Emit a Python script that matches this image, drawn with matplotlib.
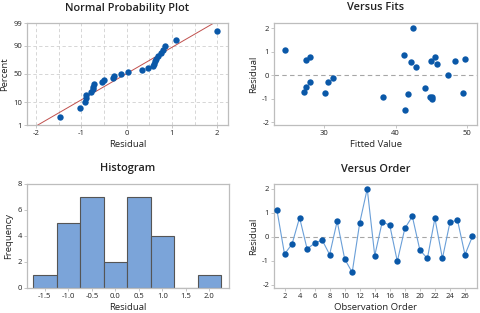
"""
Four-in-one residual plots (Minitab style).
"""

from statistics import NormalDist

import matplotlib
matplotlib.use("Agg")
import matplotlib.pyplot as plt
import numpy as np

# residuals by observation order
residuals = [1.10, -0.72, -0.30, 0.80, -0.50, -0.27, -0.13, -0.74, 0.65,
             -0.92, -1.48, 0.58, 2.00, -0.78, 0.63, 0.48, -1.02, 0.35,
             0.85, -0.55, -0.90, 0.77, -0.90, 0.60, 0.70, -0.74, 0.02]

# fitted values for the same observations
fitted = [24.5, 27.2, 28.0, 28.0, 27.5, 30.5, 31.2, 30.2, 27.5,
          38.3, 41.3, 42.2, 42.5, 41.8, 45.0, 45.8, 45.1, 42.9,
          41.2, 44.1, 44.8, 45.5, 45.1, 48.3, 49.7, 49.4, 47.4]

order = list(range(1, len(residuals) + 1))

prob_ticks = [1, 10, 50, 90, 99]
hist_bins = [-1.75, -1.25, -0.75, -0.25, 0.25, 0.75, 1.25, 1.75, 2.25]
hist_ticks = [-1.5, -1.0, -0.5, 0.0, 0.5, 1.0, 1.5, 2.0]

BLUE = "#0a58a8"
GRID = "#d0d0d0"
SPINE = "#bdbdbd"
TEXT = "#222222"

plt.rcParams["font.family"] = ["Open Sans", "DejaVu Sans"]
plt.rcParams["axes.unicode_minus"] = False
plt.rcParams["xtick.labelsize"] = 5.5
plt.rcParams["ytick.labelsize"] = 5.5
plt.rcParams["xtick.major.size"] = 2
plt.rcParams["ytick.major.size"] = 2
plt.rcParams["xtick.major.width"] = 0.6
plt.rcParams["ytick.major.width"] = 0.6
plt.rcParams["xtick.color"] = SPINE
plt.rcParams["ytick.color"] = SPINE
plt.rcParams["xtick.labelcolor"] = TEXT
plt.rcParams["ytick.labelcolor"] = TEXT
plt.rcParams["xtick.major.pad"] = 1.5
plt.rcParams["ytick.major.pad"] = 1.5


def style(ax, title, xlabel, ylabel):
    for sp in ax.spines.values():
        sp.set_color(SPINE)
        sp.set_linewidth(0.9)
    ax.set_title(title, fontsize=7.9, fontweight="semibold", color=TEXT, pad=9)
    ax.set_xlabel(xlabel, fontsize=6.8, color=TEXT, labelpad=2)
    ax.set_ylabel(ylabel, fontsize=6.8, color=TEXT, labelpad=3)


W, H = 480, 313
fig = plt.figure(figsize=(W / 100, H / 100), dpi=100)


def add_axes(left, top, right, bottom):
    return fig.add_axes([left / W, 1 - bottom / H, (right - left) / W, (bottom - top) / H])


# ---- Normal probability plot ----
ax1 = add_axes(27, 23, 228, 125)
nd = NormalDist()
srt = np.sort(residuals)
n = len(srt)
pct = [(i - 0.3) / (n + 0.4) for i in range(1, n + 1)]
z = [nd.inv_cdf(p) for p in pct]
mu = np.mean(residuals)
sd = np.std(residuals, ddof=1)
zl = [nd.inv_cdf(0.005), nd.inv_cdf(0.995)]
ax1.plot([mu + sd * v for v in zl], zl, color="#c0504d", lw=0.7, zorder=2)
ax1.scatter(srt, z, s=21, color=BLUE, zorder=3, linewidths=0)
ax1.set_ylim(nd.inv_cdf(0.01), nd.inv_cdf(0.99))
ax1.set_yticks([nd.inv_cdf(p / 100) for p in prob_ticks])
ax1.set_yticklabels([str(p) for p in prob_ticks])
ax1.set_xlim(-2.2, 2.24)
ax1.set_xticks([-2, -1, 0, 1, 2])
ax1.set_xticks(np.arange(-2, 2.01, 0.5), minor=True)
ax1.tick_params(which="minor", length=0)
ax1.grid(True, which="both", axis="x", ls=(0, (4, 3)), color=GRID, lw=0.6)
ax1.grid(True, axis="y", ls=(0, (4, 3)), color=GRID, lw=0.6)
ax1.set_axisbelow(True)
style(ax1, "Normal Probability Plot", "Residual", "Percent")

# ---- Versus fits ----
ax2 = add_axes(274, 23, 477, 125)
ax2.axhline(0, color="#a6a6a6", ls=(0, (4, 3)), lw=0.8, zorder=1)
ax2.scatter(fitted, residuals, s=21, color=BLUE, zorder=3, linewidths=0)
ax2.set_xlim(23, 51.4)
ax2.set_ylim(-2.11, 2.23)
ax2.set_xticks([30, 40, 50])
ax2.set_yticks([-2, -1, 0, 1, 2])
style(ax2, "Versus Fits", "Fitted Value", "Residual")

# ---- Histogram ----
ax3 = add_axes(27, 184, 229, 288)
ax3.hist(residuals, bins=hist_bins, color="#7ba4d9", edgecolor="#555555", linewidth=0.8)
ax3.set_xlim(-1.88, 2.42)
ax3.set_ylim(0, 8)
ax3.set_xticks(hist_ticks)
ax3.set_xticklabels([f"{t:.1f}" for t in hist_ticks])
ax3.set_yticks([0, 2, 4, 6, 8])
style(ax3, "Histogram", "Residual", "Frequency")

# ---- Versus order ----
ax4 = add_axes(274, 184, 477, 288)
ax4.axhline(0, color="#a6a6a6", ls=(0, (4, 3)), lw=0.8, zorder=1)
ax4.plot(order, residuals, color="#6a9fd8", lw=0.8, zorder=2)
ax4.scatter(order, residuals, s=21, color=BLUE, zorder=3, linewidths=0)
ax4.set_xlim(0.6, 27.6)
ax4.set_ylim(-2.13, 2.2)
ax4.set_xticks(range(2, 27, 2))
ax4.set_yticks([-2, -1, 0, 1, 2])
style(ax4, "Versus Order", "Observation Order", "Residual")

fig.savefig("out.png", dpi=100)
